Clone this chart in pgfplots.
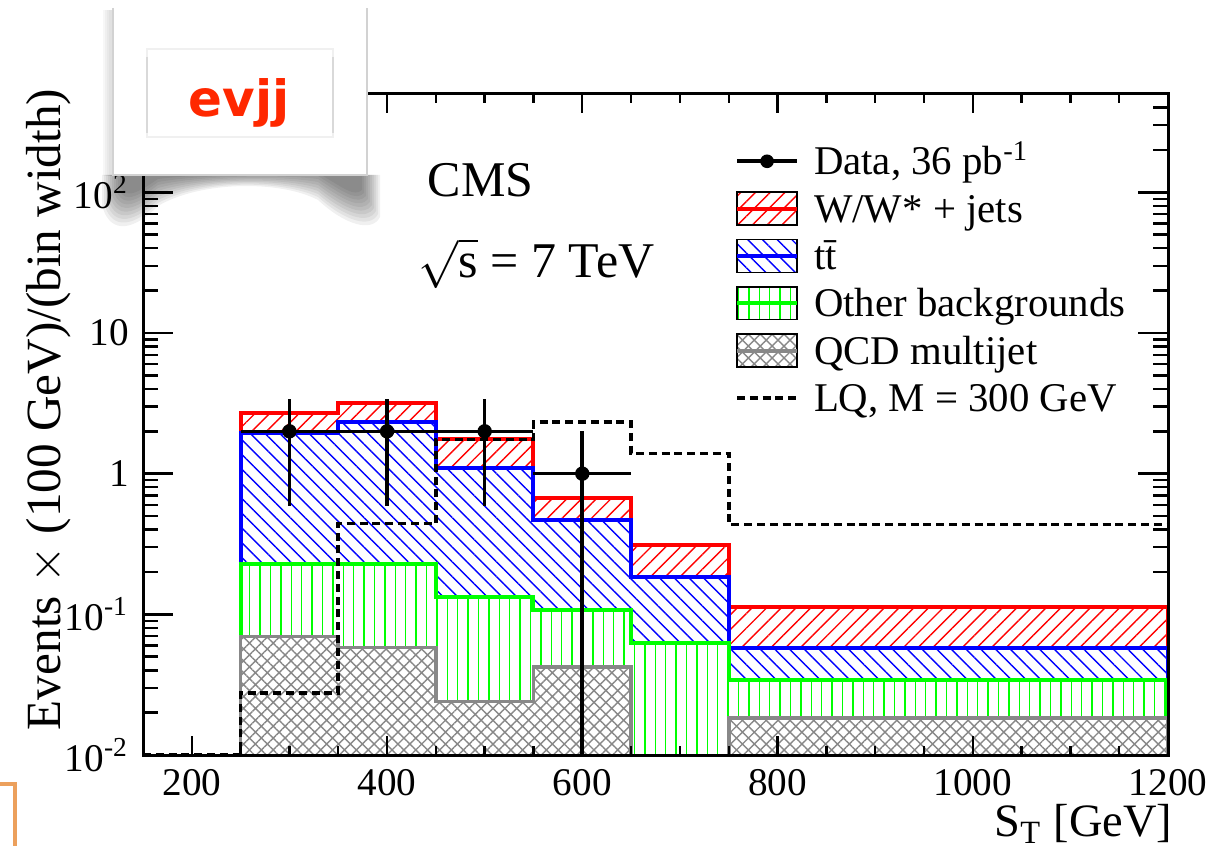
\documentclass[border=0pt]{standalone}
\usepackage{fontspec}
\setmainfont{Liberation Serif}
\newfontfamily\evfont{DejaVu Sans}
\usepackage{pgfplots}
\pgfplotsset{compat=1.18}
\usetikzlibrary{patterns.meta}
\definecolor{hgray}{RGB}{136,136,136}
\definecolor{evred}{RGB}{255,40,0}
\definecolor{boxorange}{RGB}{236,160,92}
\tikzset{
 wstyle/.style={draw=red, line width=1pt, preaction={fill=white}, pattern={Lines[angle=45,distance=2.6pt,line width=0.35pt]}, pattern color=red},
 tstyle/.style={draw=blue, line width=1pt, preaction={fill=white}, pattern={Lines[angle=-45,distance=2.6pt,line width=0.35pt]}, pattern color=blue},
 ostyle/.style={draw=green, line width=1pt, preaction={fill=white}, pattern={Lines[angle=90,distance=2.6pt,line width=0.35pt]}, pattern color=green},
 qstyle/.style={draw=hgray, line width=0.9pt, preaction={fill=white}, pattern={Hatch[angle=45,distance=2.1pt,line width=0.35pt]}, pattern color=hgray},
}
\begin{document}
\begin{tikzpicture}
\useasboundingbox (0pt,0pt) rectangle (304.25pt,211.25pt);
% main axis (y ticks, histograms)
\begin{axis}[
  at={(35.75pt,22.5pt)}, anchor=south west,
  scale only axis, width=256.25pt, height=165.25pt,
  xmin=150, xmax=1200, ymode=log, ymin=0.01, ymax=500,
  axis line style={line width=0.75pt},
  tick align=inside, tick pos=both,
  every tick/.style={black, line width=0.6pt},
  major tick length=7.5pt, minor tick length=3.75pt,
  xtick=\empty,
  ytick={0.01,0.1,1,10,100},
  yticklabels={10\textsuperscript{-2},10\textsuperscript{-1},1,10,10\textsuperscript{2}},
  minor ytick={0.02,0.03,0.04,0.05,0.06,0.07,0.08,0.09,0.2,0.3,0.4,0.5,0.6,0.7,0.8,0.9,2,3,4,5,6,7,8,9,20,30,40,50,60,70,80,90,200,300,400},
  yticklabel style={font=\fontsize{9.8}{10}\selectfont},
  legend cell align=left,
  legend style={at={(0.5776,0.934)}, anchor=north west, draw=none, fill=none,
    inner sep=0pt, outer sep=0pt, row sep=0pt, column sep=3.75pt,
    font=\fontsize{10.2}{12}\selectfont,
    nodes={inner sep=0pt, outer sep=0pt, text height=9.3pt, text depth=2.53pt, anchor=west}},
]
% W/W* + jets (stack total)
\addplot[const plot, wstyle, forget plot] coordinates {
 (250,0.001) (250,2.71) (350,3.20) (450,1.75) (550,0.666) (650,0.31) (750,0.113) (1200,0.113) (1200,0.001)} -- cycle;
% ttbar
\addplot[const plot, tstyle, forget plot] coordinates {
 (250,0.001) (250,1.95) (350,2.33) (450,1.10) (550,0.472) (650,0.184) (750,0.0577) (1200,0.0577) (1200,0.001)} -- cycle;
% other backgrounds
\addplot[const plot, ostyle, forget plot] coordinates {
 (250,0.001) (250,0.228) (350,0.228) (450,0.132) (550,0.1066) (650,0.0625) (750,0.034) (1200,0.034) (1200,0.001)} -- cycle;
% QCD multijet
\addplot[const plot, qstyle, forget plot] coordinates {
 (250,0.001) (250,0.0696) (350,0.058) (450,0.024) (550,0.0422) (650,0.001) (750,0.0184) (1200,0.0184) (1200,0.001)} -- cycle;
% LQ M=300
\addplot[const plot, black, line width=0.9pt, dash pattern=on 2pt off 1.2pt, forget plot] coordinates {
 (150,0.01) (250,0.0275) (350,0.442) (450,1.75) (550,2.33) (650,1.39) (750,0.435) (1200,0.435)};
% Data
\addplot[black, only marks, mark=*, mark size=1.6pt, forget plot,
  error bars/.cd, x dir=both, x explicit, y dir=both, y explicit,
  error mark=none, error bar style={line width=0.9pt, black}] coordinates {
 (300,2) +- (50,1.414)
 (400,2) +- (50,1.414)
 (500,2) +- (50,1.414)
 (600,1) += (50,1) -= (50,0.9999)};
% legend
\addlegendimage{legend image code/.code={\draw[black,line width=0.9pt] (0pt,0pt) -- (15pt,0pt); \fill[black] (7.5pt,0pt) circle (1.5pt);}}
\addlegendentry{Data, 36 pb\textsuperscript{-1}}
\addlegendimage{legend image code/.code={\fill[pattern={Lines[angle=45,distance=2.6pt,line width=0.35pt]}, pattern color=red] (0pt,-4.1pt) rectangle (15pt,4.1pt); \draw[red,line width=1pt] (0pt,0pt) -- (15pt,0pt);}}
\addlegendentry{W/W* + jets}
\addlegendimage{legend image code/.code={\fill[pattern={Lines[angle=-45,distance=2.6pt,line width=0.35pt]}, pattern color=blue] (0pt,-4.1pt) rectangle (15pt,4.1pt); \draw[blue,line width=1pt] (0pt,0pt) -- (15pt,0pt);}}
\addlegendentry{t\={t}}
\addlegendimage{legend image code/.code={\fill[pattern={Lines[angle=90,distance=2.6pt,line width=0.35pt]}, pattern color=green] (0pt,-4.1pt) rectangle (15pt,4.1pt); \draw[green,line width=1pt] (0pt,0pt) -- (15pt,0pt);}}
\addlegendentry{Other backgrounds}
\addlegendimage{legend image code/.code={\fill[pattern={Hatch[angle=45,distance=2.1pt,line width=0.35pt]}, pattern color=hgray] (0pt,-4.1pt) rectangle (15pt,4.1pt); \draw[hgray,line width=1pt] (0pt,0pt) -- (15pt,0pt);}}
\addlegendentry{QCD multijet}
\addlegendimage{legend image code/.code={\draw[black,line width=0.9pt, dash pattern=on 2pt off 1.2pt] (0pt,0pt) -- (15pt,0pt);}}
\addlegendentry{LQ, M = 300 GeV}
\end{axis}
% second axis: x ticks
\begin{axis}[
  at={(35.75pt,22.5pt)}, anchor=south west,
  scale only axis, width=256.25pt, height=165.25pt,
  xmin=150, xmax=1200, ymode=log, ymin=0.01, ymax=500,
  axis line style={line width=0.75pt},
  tick align=inside, tick pos=both,
  every tick/.style={black, line width=0.6pt},
  major tick length=4.75pt, minor tick length=2.3pt,
  ytick=\empty, minor ytick={},
  xtick={200,400,600,800,1000,1200},
  xticklabels={200,400,600,800,1000,1200},
  minor x tick num=3,
  xticklabel style={font=\fontsize{9.8}{10}\selectfont},
]
\end{axis}
\begin{scope}[x=0.25pt,y=-0.25pt,yshift=211.25pt]
% axis labels and texts
\node[anchor=base east, font=\fontsize{11.6}{12}\selectfont, inner sep=0pt] at (1173,836) {S\textsubscript{T} [GeV]};
\node[rotate=90, anchor=base east, font=\fontsize{12.3}{13}\selectfont, inner sep=0pt] at (60,88) {Events $\times$ (100 GeV)/(bin width)};
\node[anchor=base west, font=\fontsize{12.5}{13}\selectfont, inner sep=0pt] at (427,197) {CMS};
\node[anchor=base west, font=\fontsize{12.5}{13}\selectfont, inner sep=0pt] at (418,278) {$\sqrt{\mbox{s}}$ = 7 TeV};
% screenshot overlay: evjj box with curled, soft shadow
\foreach \k in {0,...,9}{
  \fill[black, opacity=0.06] ({102+2*\k},175) -- ({102+2*\k},{205-2*\k}) .. controls ({108+2*\k},{230-4*\k}) and (128,{236-4*\k}) .. (158,{206-3*\k}) .. controls (200,{181-0.8*\k}) and (280,{180-0.8*\k}) .. (318,{200-3*\k}) .. controls (345,{225-4*\k}) and ({372-2*\k},{233-4*\k}) .. ({380-2*\k},{217-3*\k}) -- ({380-2*\k},175) -- cycle;
}
\foreach \k in {0,...,3}{
  \fill[black, opacity=0.03] ({103+2*\k},10) rectangle (113,176);
}
\fill[white] (113,8) rectangle (367,175);
\draw[gray!35, line width=0.4pt] (113,8) -- (113,175) -- (367,175) -- (367,8);
\draw[gray!12, line width=0.4pt] (147,49) rectangle (333,137);
\draw[gray!30, line width=0.4pt] (147,57) -- (147,133) (333,57) -- (333,133);
\node[text=evred, font=\evfont\bfseries\fontsize{12.5}{13}\selectfont, inner sep=0pt] at (239,103) {evjj};
% orange box fragment bottom-left
\draw[boxorange, line width=1pt, fill=white] (-30,784) rectangle (15,900);
\end{scope}
\end{tikzpicture}
\end{document}
